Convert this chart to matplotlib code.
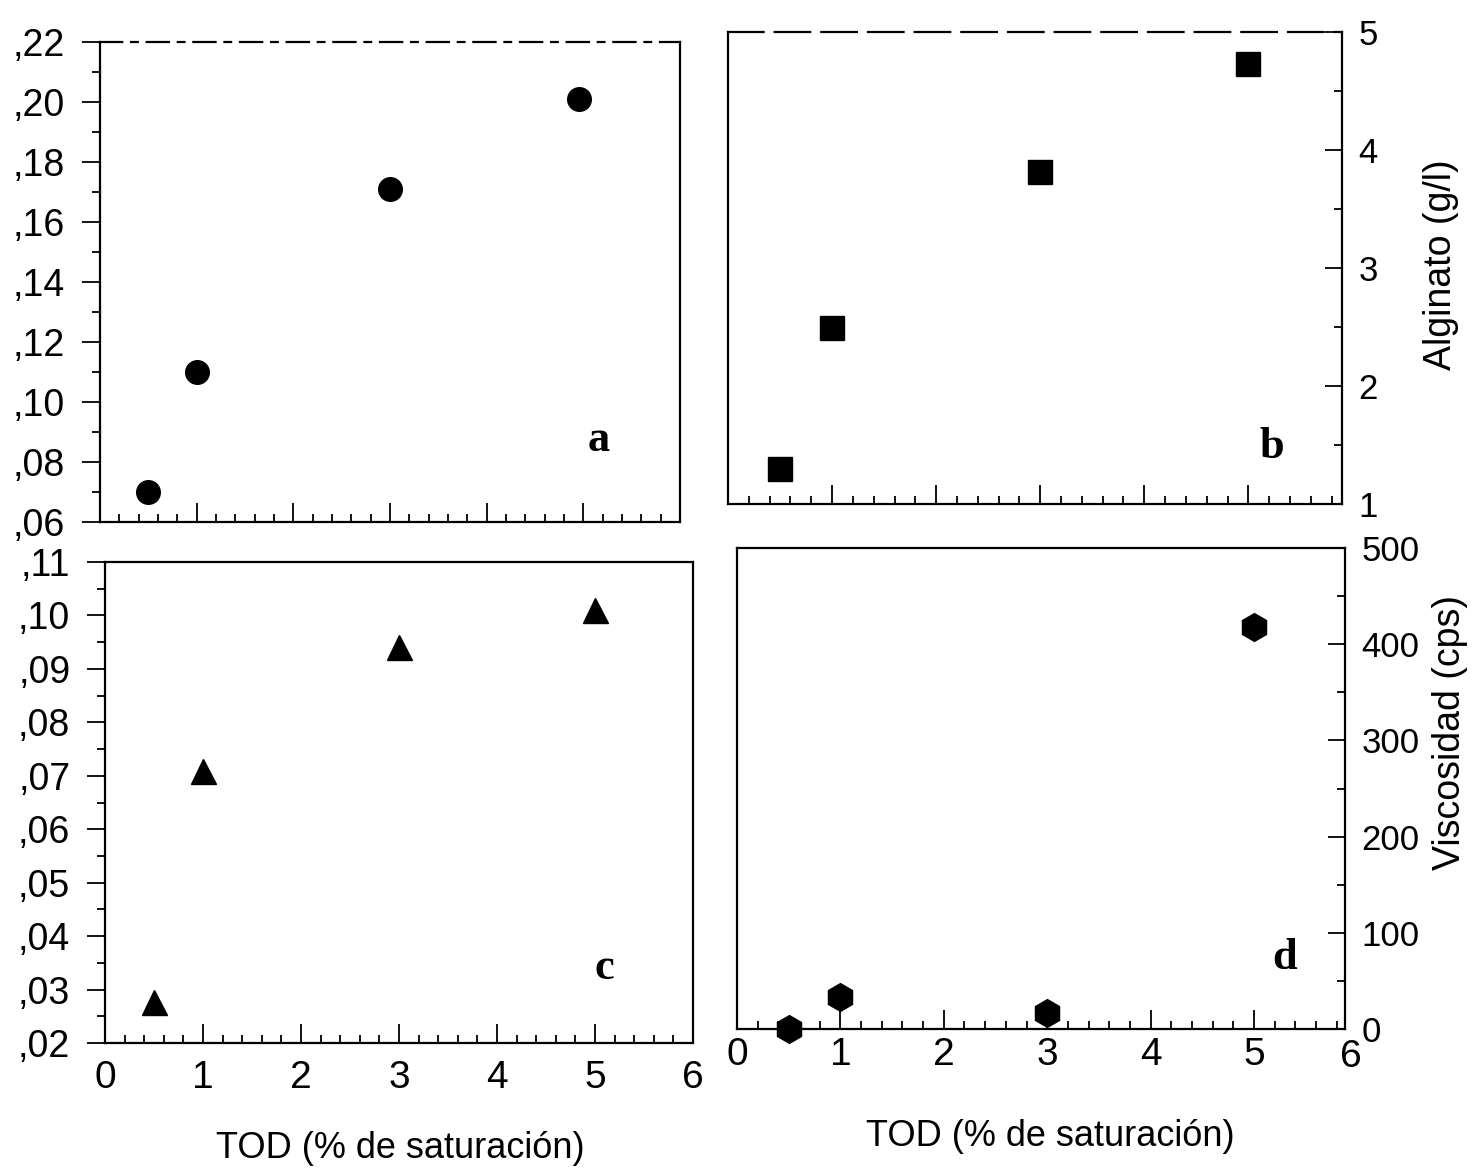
import matplotlib
matplotlib.use("Agg")
import matplotlib.pyplot as plt
from matplotlib.ticker import MultipleLocator, FuncFormatter

plt.rcParams["font.family"] = ["Liberation Sans", "DejaVu Sans"]

# values
tod_a = [0.5, 1.0, 3.0, 4.95]
val_a = [0.070, 0.110, 0.171, 0.201]

tod_b = [0.5, 1.0, 3.0, 5.0]
alginato = [1.30, 2.49, 3.81, 4.73]

tod_c = [0.5, 1.0, 3.0, 5.0]
val_c = [0.0277, 0.0709, 0.0941, 0.1010]

tod_d = [0.5, 1.0, 3.0, 5.0]
viscosidad = [0, 33, 17, 418]

XLABEL = "TOD (% de saturación)"
W, H = 1475, 1171


def box(l, t, r, b):
    # pixel box -> figure fraction
    return [l / W, 1 - b / H, (r - l) / W, (b - t) / H]


def comma_fmt(v, _):
    return f"{v:.2f}".lstrip("0").replace(".", ",")


fig = plt.figure(figsize=(W / 100, H / 100), dpi=100)
ax_a = fig.add_axes(box(100, 42, 680, 522))
ax_b = fig.add_axes(box(728, 32, 1342, 504))
ax_c = fig.add_axes(box(105, 562, 693, 1043))
ax_d = fig.add_axes(box(737, 548, 1345, 1029))

mk = dict(color="black", linestyle="none", clip_on=False, zorder=5)
ax_a.plot(tod_a, val_a, marker="o", ms=17, **mk)
ax_b.plot(tod_b, alginato, marker="s", ms=17, **mk)
ax_c.plot(tod_c, val_c, marker="^", ms=18, **mk)
ax_d.plot(tod_d, viscosidad, marker="h", ms=20, **mk)

ax_a.set_xlim(0, 6); ax_a.set_ylim(0.06, 0.22)
ax_b.set_xlim(0, 5.9); ax_b.set_ylim(1, 5)
ax_c.set_xlim(0, 6); ax_c.set_ylim(0.02, 0.11)
ax_d.set_xlim(0, 5.88); ax_d.set_ylim(0, 500)

for ax in (ax_a, ax_b, ax_c, ax_d):
    for s in ax.spines.values():
        s.set_linewidth(1.6)
    ax.xaxis.set_major_locator(MultipleLocator(1))
    ax.xaxis.set_minor_locator(MultipleLocator(0.2))
    ax.tick_params(axis="x", which="both", direction="in", top=False,
                   width=1.3, labelsize=28, pad=12)
    ax.tick_params(axis="x", which="major", length=14)
    ax.tick_params(axis="x", which="minor", length=6)

ax_d.tick_params(axis="x", pad=6)

# scanned top edges are broken up
ax_a.spines["top"].set_linestyle((0, (10, 4, 3, 4)))
ax_b.spines["top"].set_linestyle((0, (16, 5)))

for ax in (ax_a, ax_b):
    ax.tick_params(axis="x", labelbottom=False)

# left panels: comma decimals, ticks outward
ax_a.yaxis.set_major_locator(MultipleLocator(0.02))
ax_a.yaxis.set_minor_locator(MultipleLocator(0.01))
ax_c.yaxis.set_major_locator(MultipleLocator(0.01))
ax_c.yaxis.set_minor_locator(MultipleLocator(0.005))
for ax in (ax_a, ax_c):
    ax.yaxis.set_major_formatter(FuncFormatter(comma_fmt))
    ax.tick_params(axis="y", which="both", direction="out", right=False,
                   width=1.3, labelsize=27, pad=12)
    ax.tick_params(axis="y", which="major", length=13)
    ax.tick_params(axis="y", which="minor", length=6)

# right panels: labels on the right, ticks inward
ax_b.yaxis.set_major_locator(MultipleLocator(1))
ax_b.yaxis.set_minor_locator(MultipleLocator(0.5))
ax_d.yaxis.set_major_locator(MultipleLocator(100))
ax_d.yaxis.set_minor_locator(MultipleLocator(50))
for ax in (ax_b, ax_d):
    ax.yaxis.tick_right()
    ax.tick_params(axis="y", which="both", direction="in", left=False,
                   width=1.3, labelsize=25, pad=12)
    ax.tick_params(axis="y", which="major", length=12)
    ax.tick_params(axis="y", which="minor", length=6)

# the "6" of panel d sits just past the frame
ax_d.text(5.94, -0.02, "6", transform=ax_d.get_xaxis_transform(),
          ha="center", va="top", fontsize=28)

letter = dict(fontsize=32, fontweight="bold", family="Liberation Serif",
              ha="center", va="center")
ax_a.text(0.859, 0.171, "a", transform=ax_a.transAxes, **letter)
ax_b.text(0.886, 0.121, "b", transform=ax_b.transAxes, **letter)
ax_c.text(0.849, 0.156, "c", transform=ax_c.transAxes, **letter)
ax_d.text(0.901, 0.148, "d", transform=ax_d.transAxes, **letter)

fig.text(400 / W, 1 - 1148 / H, XLABEL, ha="center", va="center", fontsize=26)
fig.text(1050 / W, 1 - 1137 / H, XLABEL, ha="center", va="center", fontsize=26)
fig.text(1441 / W, 1 - 265 / H, "Alginato (g/l)", rotation=90,
         ha="center", va="center", fontsize=27)
fig.text(1450 / W, 1 - 732 / H, "Viscosidad (cps)", rotation=90,
         ha="center", va="center", fontsize=27)

fig.savefig("out.png", dpi=100)
